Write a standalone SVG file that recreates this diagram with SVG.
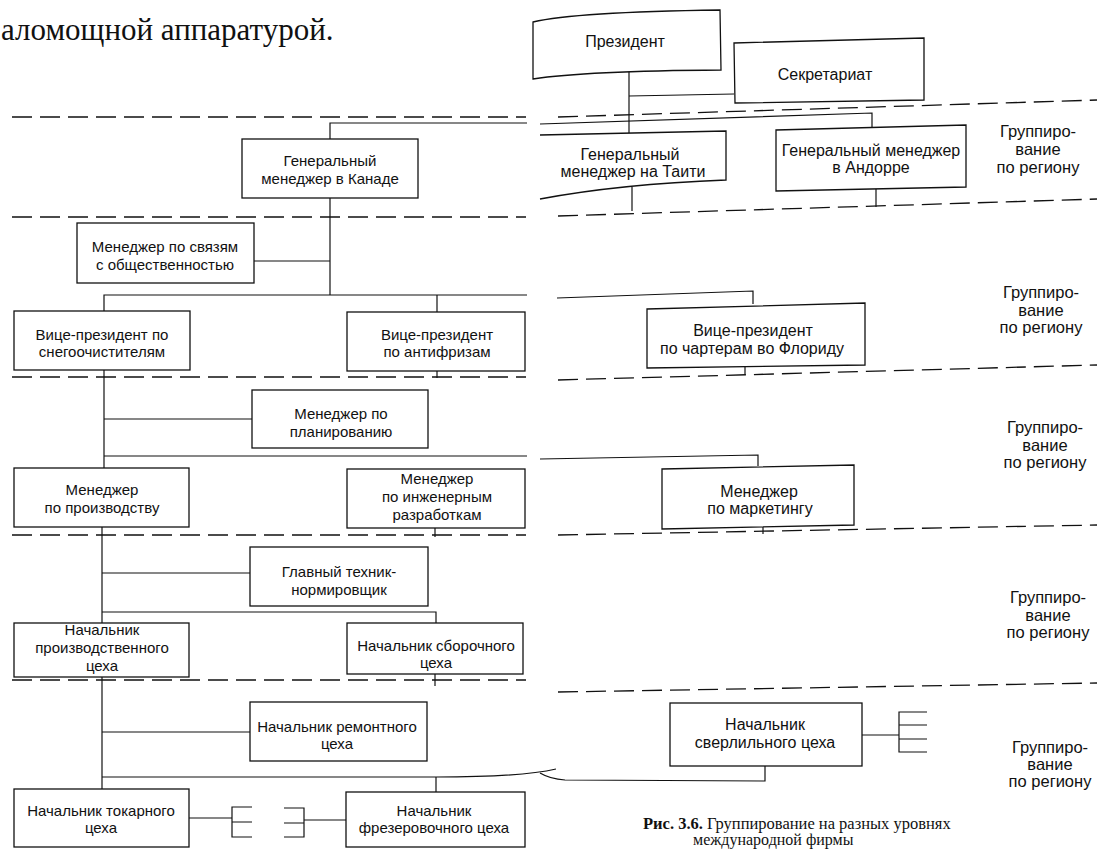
<svg xmlns="http://www.w3.org/2000/svg" width="1097" height="849" viewBox="0 0 1097 849">
<style>
.box{fill:#fff;stroke:#111;stroke-width:1.3}
.ln{fill:none;stroke:#111;stroke-width:1.2}
.dash{fill:none;stroke:#111;stroke-width:1.3;stroke-dasharray:20 8}
.t{font-family:"Liberation Sans",Arial,sans-serif;font-size:15px;fill:#111;text-anchor:middle}
.r{font-size:16px}
.g{font-family:"Liberation Sans",Arial,sans-serif;font-size:16.5px;fill:#111;text-anchor:middle}
.s{font-family:"Liberation Serif","Times New Roman",serif;fill:#111}
</style>
<rect width="1097" height="849" fill="#fff"/>
<text class="s" x="1" y="40" font-size="31">аломощной аппаратурой.</text>

<g id="dashes">
<line class="dash" x1="12" y1="117" x2="526" y2="117"/>
<line class="dash" x1="12" y1="217" x2="526" y2="217"/>
<line class="dash" x1="12" y1="377" x2="526" y2="377"/>
<line class="dash" x1="12" y1="535" x2="526" y2="535"/>
<line class="dash" x1="12" y1="680" x2="526" y2="680"/>
<line class="dash" x1="558" y1="117" x2="1097" y2="100"/>
<line class="dash" x1="558" y1="216" x2="1097" y2="199"/>
<line class="dash" x1="558" y1="380" x2="1097" y2="365"/>
<line class="dash" x1="558" y1="535" x2="1097" y2="525"/>
<line class="dash" x1="558" y1="692" x2="1097" y2="683"/>
</g>

<g id="connectors">
<path class="ln" d="M330,139 V123 H527"/>
<path class="ln" d="M330,198 V295"/>
<path class="ln" d="M254,261 H330"/>
<path class="ln" d="M104,311 V295 H527"/>
<path class="ln" d="M437,295 V312"/>
<path class="ln" d="M437,371 V378"/>
<path class="ln" d="M104,370 V468"/>
<path class="ln" d="M104,419 H252"/>
<path class="ln" d="M104,456 H527"/>
<path class="ln" d="M435,528 V537"/>
<path class="ln" d="M102,527 V623"/>
<path class="ln" d="M102,573 H250"/>
<path class="ln" d="M102,612 H436 V623"/>
<path class="ln" d="M435,674 V686"/>
<path class="ln" d="M102,677 V789"/>
<path class="ln" d="M102,732 H250"/>
<path class="ln" d="M102,777 H436 C490,777 530,775 556,769"/>
<path class="ln" d="M436,777 V792"/>
<path class="ln" d="M189,818 H232 M252,807 H232 V837 H252 M232,822 H252"/>
<path class="ln" d="M284,808 H304 V837 H284 M284,823 H304 M304,820 H346"/>
<path class="ln" d="M629,71 V134"/>
<path class="ln" d="M629,96 L734,94"/>
<path class="ln" d="M540,124 L872,113 V127"/>
<path class="ln" d="M632,187 V211"/>
<path class="ln" d="M876,189 V207"/>
<path class="ln" d="M557,298 L753,291 V304"/>
<path class="ln" d="M745,367 V374"/>
<path class="ln" d="M540,459 L758,455 V466"/>
<path class="ln" d="M763,527 V534"/>
<path class="ln" d="M862,735 H899 M927,712 H899 V752 H927 M899,725 H927 M899,739 H927"/>
<path class="ln" d="M765,766 V781 L565,780 Q550,779 540,773"/>
</g>

<g id="president"><path class="box" d="M533,22 Q575,12 720,10 L721,70 Q585,71 533,79 Z"/><text class="t r" x="625" y="47">Президент</text></g>
<g id="secretariat"><polygon class="box" points="734,43 924,38 924,100 735,103"/><text class="t r" x="825" y="80">Секретариат</text></g>
<g id="tahiti"><path class="box" d="M540,135 L726,131 L726,180 Q620,184 540,199"/><text class="t r" x="630" y="160">Генеральный</text><text class="t r" x="633" y="177">менеджер на Таити</text></g>
<g id="andorra"><polygon class="box" points="776,130 966,125 966,187 776,191"/><text class="t r" x="871" y="156">Генеральный менеджер</text><text class="t r" x="871" y="173">в Андорре</text></g>
<g id="canada"><rect class="box" x="242" y="139" width="176" height="59"/><text class="t" x="330" y="166">Генеральный</text><text class="t" x="330" y="184">менеджер в Канаде</text></g>
<g id="pr"><rect class="box" x="77" y="223" width="177" height="60"/><text class="t" x="165" y="252">Менеджер по связям</text><text class="t" x="165" y="270">с общественностью</text></g>
<g id="vp-snow"><rect class="box" x="14" y="311" width="176" height="59"/><text class="t" x="102" y="340">Вице-президент по</text><text class="t" x="102" y="357">снегоочистителям</text></g>
<g id="vp-anti"><rect class="box" x="347" y="312" width="178" height="59"/><text class="t" x="437" y="340">Вице-президент</text><text class="t" x="437" y="357">по антифризам</text></g>
<g id="vp-florida"><polygon class="box" points="647,309 865,303 865,365 647,368"/><text class="t r" x="753" y="336">Вице-президент</text><text class="t r" x="752" y="354">по чартерам во Флориду</text></g>
<g id="planning"><rect class="box" x="252" y="390" width="176" height="58"/><text class="t" x="341" y="419">Менеджер по</text><text class="t" x="341" y="437">планированию</text></g>
<g id="production"><rect class="box" x="14" y="468" width="175" height="59"/><text class="t" x="102" y="495">Менеджер</text><text class="t" x="102" y="513">по производству</text></g>
<g id="engineering"><rect class="box" x="347" y="469" width="178" height="59"/><text class="t" x="437" y="484">Менеджер</text><text class="t" x="437" y="502">по инженерным</text><text class="t" x="437" y="520">разработкам</text></g>
<g id="marketing"><polygon class="box" points="662,469 854,465 854,525 662,529"/><text class="t r" x="759" y="497">Менеджер</text><text class="t r" x="760" y="514">по маркетингу</text></g>
<g id="chief-tech"><rect class="box" x="250" y="547" width="178" height="59"/><text class="t" x="339" y="577">Главный техник-</text><text class="t" x="339" y="595">нормировщик</text></g>
<g id="prod-shop"><rect class="box" x="14" y="623" width="175" height="54"/><text class="t" x="102" y="635">Начальник</text><text class="t" x="102" y="653">производственного</text><text class="t" x="102" y="671">цеха</text></g>
<g id="assembly"><rect class="box" x="347" y="623" width="176" height="51"/><text class="t" x="436" y="651">Начальник сборочного</text><text class="t" x="436" y="668">цеха</text></g>
<g id="repair"><rect class="box" x="250" y="702" width="177" height="59"/><text class="t" x="337" y="732">Начальник ремонтного</text><text class="t" x="337" y="749">цеха</text></g>
<g id="drill"><rect class="box" x="670" y="703" width="192" height="63"/><text class="t r" x="765" y="730">Начальник</text><text class="t r" x="765" y="748">сверлильного цеха</text></g>
<g id="turning"><rect class="box" x="14" y="789" width="175" height="58"/><text class="t" x="101" y="816">Начальник токарного</text><text class="t" x="101" y="833">цеха</text></g>
<g id="milling"><rect class="box" x="346" y="792" width="179" height="55"/><text class="t" x="434" y="816">Начальник</text><text class="t" x="434" y="833">фрезеровочного цеха</text></g>

<g id="labels">
<text class="g" x="1038" y="137">Группиро-</text><text class="g" x="1038" y="155">вание</text><text class="g" x="1038" y="173">по региону</text>
<text class="g" x="1041" y="298">Группиро-</text><text class="g" x="1041" y="316">вание</text><text class="g" x="1041" y="333">по региону</text>
<text class="g" x="1045" y="433">Группиро-</text><text class="g" x="1045" y="451">вание</text><text class="g" x="1045" y="468">по региону</text>
<text class="g" x="1048" y="603">Группиро-</text><text class="g" x="1048" y="621">вание</text><text class="g" x="1048" y="638">по региону</text>
<text class="g" x="1050" y="753">Группиро-</text><text class="g" x="1050" y="770">вание</text><text class="g" x="1050" y="787">по региону</text>
</g>

<g id="caption">
<text class="s" x="643" y="829" font-size="16.5"><tspan font-weight="bold">Рис. 3.6.</tspan> Группирование на разных уровнях</text>
<text class="s" x="693" y="845" font-size="16">международной фирмы</text>
</g>
</svg>
